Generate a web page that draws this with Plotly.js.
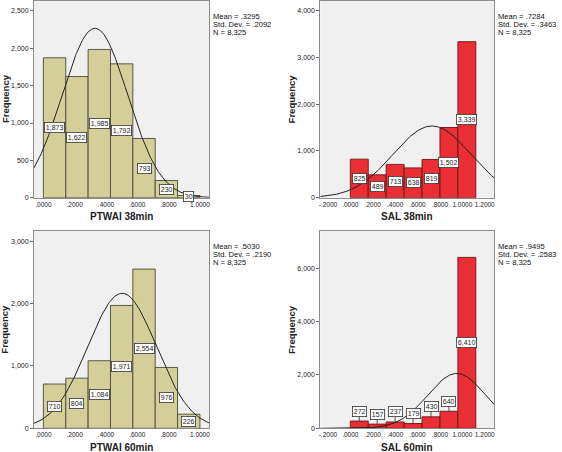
<!DOCTYPE html>
<html><head><meta charset="utf-8">
<script src="https://cdn.plot.ly/plotly-3.0.1.min.js"></script>
<style>html,body{margin:0;padding:0;background:#fff}#chart{width:562px;height:452px}</style>
</head><body><div id="chart"></div>
<script>
// ---- data ----
const panelTitles = ['PTWAI 38min', 'SAL 38min', 'PTWAI 60min', 'SAL 60min'];
const ptwai38Counts = [1873, 1622, 1985, 1792, 793, 230, 30];
const sal38Counts = [825, 489, 713, 638, 819, 1502, 3339];
const ptwai60Counts = [710, 804, 1084, 1971, 2554, 976, 226];
const sal60Counts = [272, 157, 237, 179, 430, 640, 6410];
const means = [0.3295, 0.7284, 0.5030, 0.9495];
const stdDevs = [0.2092, 0.3463, 0.2190, 0.2583];
const ns = [8325, 8325, 8325, 8325];
const binStarts = [0, 0, 0, 0];
const binWidths = [1 / 7, 0.16, 1 / 7, 0.16];
const ptwaiTicks = [0, 0.2, 0.4, 0.6, 0.8, 1.0];
const salTicks = [-0.2, 0, 0.2, 0.4, 0.6, 0.8, 1.0, 1.2];

// ---- styling / layout ----
const W = 562, H = 452;
const KHAKI = 'rgb(212,207,153)', KHAKI_EDGE = '#4a4a3a';
const RED = 'rgb(233,46,52)', RED_EDGE = '#6e1414';
const FONT = '"Liberation Sans", Arial, sans-serif';
const counts = [ptwai38Counts, sal38Counts, ptwai60Counts, sal60Counts];
const panels = [
  {xd: [34 / W, 209.3 / W], top: 0.5, bottom: 197.7, xr: [-0.06, 1.06], yr: [0, 2640], dtick: 500, fill: KHAKI, edge: KHAKI_EDGE, ticks: ptwaiTicks, above: 0},
  {xd: [320.3 / W, 494.3 / W], top: 0.5, bottom: 197.7, xr: [-0.268, 1.285], yr: [0, 4220], dtick: 1000, fill: RED, edge: RED_EDGE, ticks: salTicks, above: 0},
  {xd: [34 / W, 209.3 / W], top: 231, bottom: 428.3, xr: [-0.06, 1.06], yr: [0, 3165], dtick: 1000, fill: KHAKI, edge: KHAKI_EDGE, ticks: ptwaiTicks, above: 0},
  {xd: [320.3 / W, 494.3 / W], top: 231, bottom: 428.3, xr: [-0.268, 1.285], yr: [0, 7400], dtick: 2000, fill: RED, edge: RED_EDGE, ticks: salTicks, above: 1000}
];

const fmt4 = v => v.toFixed(4).replace(/^0\./, '.').replace(/^-0\./, '-.');
const fmtN = v => v.toLocaleString('en-US');

const traces = [];
const annotations = [];
const layout = {
  width: W, height: H,
  margin: {l: 0, r: 0, t: 0, b: 0},
  paper_bgcolor: '#ffffff',
  plot_bgcolor: '#f0f0f0',
  showlegend: false,
  font: {family: FONT, color: '#222', size: 7},
  annotations: annotations
};

panels.forEach((p, i) => {
  const k = i === 0 ? '' : String(i + 1);
  const xa = 'x' + k, ya = 'y' + k;
  const bw = binWidths[i];
  const c = counts[i];
  const centers = c.map((_, j) => binStarts[i] + bw * (j + 0.5));

  traces.push({
    type: 'bar', x: centers, y: c, width: bw,
    xaxis: xa, yaxis: ya,
    marker: {color: p.fill, line: {color: p.edge, width: 0.9}},
    hoverinfo: 'x+y'
  });

  // fitted normal curve
  const xs = [], ys = [];
  const steps = 240;
  for (let s = 0; s <= steps; s++) {
    const x = p.xr[0] + (p.xr[1] - p.xr[0]) * s / steps;
    const z = (x - means[i]) / stdDevs[i];
    xs.push(x);
    ys.push(ns[i] * bw * Math.exp(-0.5 * z * z) / (stdDevs[i] * Math.sqrt(2 * Math.PI)));
  }
  traces.push({
    type: 'scatter', mode: 'lines', x: xs, y: ys,
    xaxis: xa, yaxis: ya,
    line: {color: '#222', width: 1}, hoverinfo: 'skip'
  });

  const yd = [(H - p.bottom) / H, (H - p.top) / H];
  layout['xaxis' + k] = {
    domain: p.xd, range: p.xr, anchor: ya,
    showgrid: false, zeroline: false,
    showline: true, mirror: true, linecolor: '#8c8c8c', linewidth: 1,
    ticks: '', tickvals: p.ticks, ticktext: p.ticks.map(fmt4), tickangle: 0,
    tickfont: {size: 6.5, color: '#222', family: FONT}
  };
  layout['yaxis' + k] = {
    domain: yd, range: p.yr, anchor: xa,
    showgrid: false, zeroline: false,
    showline: true, mirror: true, linecolor: '#8c8c8c', linewidth: 1,
    ticks: 'outside', ticklen: 3, tickcolor: '#666', tickwidth: 1,
    dtick: p.dtick, tickformat: ',d',
    tickfont: {size: 7, color: '#222', family: FONT}
  };

  // bar value labels
  c.forEach((v, j) => {
    const base = {
      xref: xa, yref: ya, x: centers[j],
      text: fmtN(v), font: {size: 7, color: '#222', family: FONT},
      bgcolor: '#ffffff', bordercolor: '#333', borderwidth: 0.8, borderpad: 1
    };
    if (v < p.above) {
      annotations.push(Object.assign(base, {y: v, showarrow: true, arrowhead: 0, arrowwidth: 0.8, arrowcolor: '#333', ax: 0, ay: -10}));
    } else {
      annotations.push(Object.assign(base, {y: v / 2, showarrow: false}));
    }
  });

  // statistics text
  const stats = ['Mean = ' + fmt4(means[i]), 'Std. Dev. = ' + fmt4(stdDevs[i]), 'N = ' + fmtN(ns[i])];
  stats.forEach((t, j) => {
    annotations.push({
      xref: 'paper', yref: 'paper', x: p.xd[1] + 3 / W, xanchor: 'left',
      y: (H - (p.top + 15.5 + 8.2 * j)) / H, yanchor: 'middle',
      text: t, showarrow: false, borderpad: 0,
      font: {size: 7.6, color: '#111', family: FONT}
    });
  });

  // axis titles
  annotations.push({
    xref: 'paper', yref: 'paper', x: (p.xd[0] + p.xd[1]) / 2, xanchor: 'center',
    y: (H - (p.bottom + 19)) / H, yanchor: 'middle',
    text: '<b>' + panelTitles[i] + '</b>', showarrow: false,
    font: {size: 10, color: '#222', family: FONT}
  });
  annotations.push({
    xref: 'paper', yref: 'paper', x: p.xd[0] - 29 / W, xanchor: 'center',
    y: (yd[0] + yd[1]) / 2, yanchor: 'middle', textangle: -90,
    text: '<b>Frequency</b>', showarrow: false,
    font: {size: 9.5, color: '#222', family: FONT}
  });
});

Plotly.newPlot('chart', traces, layout, {displayModeBar: false, staticPlot: true});
</script>
</body></html>
